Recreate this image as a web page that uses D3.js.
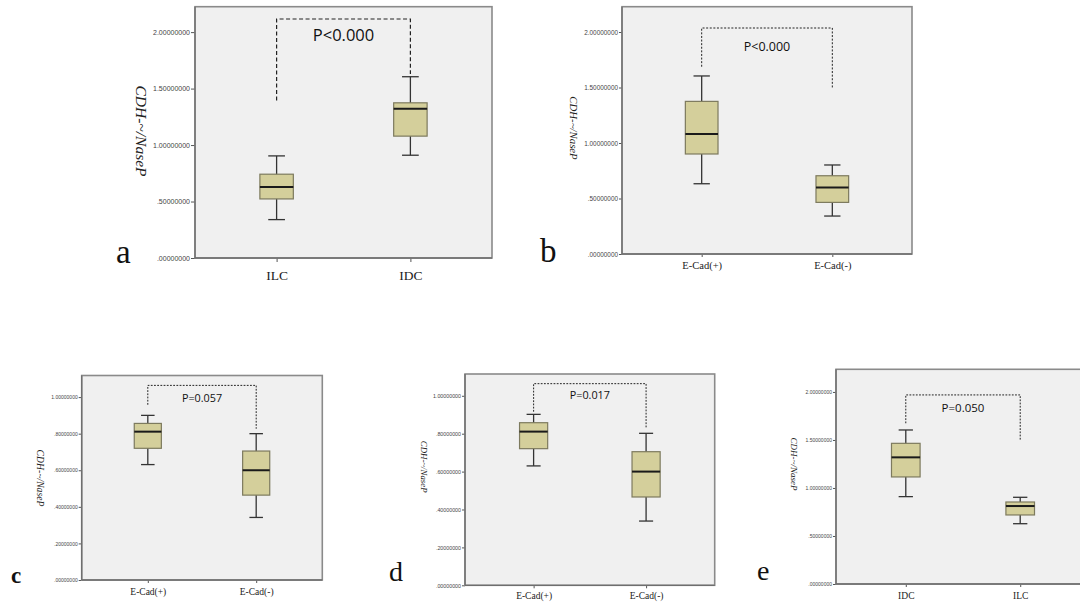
<!DOCTYPE html>
<html>
<head>
<meta charset="utf-8">
<script src="https://cdn.jsdelivr.net/npm/d3@7"></script>
<style>
  body { margin: 0; background: #fff; }
  svg { display: block; }
</style>
</head>
<body>
<svg id="fig" width="1080" height="603"></svg>
<script>
// Categories of each panel
const catsA = ["ILC", "IDC"];
const catsB = ["E-Cad(+)", "E-Cad(-)"];
const catsC = ["E-Cad(+)", "E-Cad(-)"];
const catsD = ["E-Cad(+)", "E-Cad(-)"];
const catsE = ["IDC", "ILC"];

// Box stats per category: [min, q1, median, q3, max]
const statsA = [[0.34, 0.523, 0.629, 0.742, 0.904], [0.91, 1.079, 1.321, 1.374, 1.605]];
const statsB = [[0.633, 0.901, 1.081, 1.375, 1.604], [0.342, 0.465, 0.600, 0.705, 0.802]];
const statsC = [[0.631, 0.720, 0.811, 0.856, 0.900], [0.342, 0.464, 0.600, 0.705, 0.800]];
const statsD = [[0.630, 0.721, 0.811, 0.858, 0.902], [0.339, 0.466, 0.600, 0.705, 0.802]];
const statsE = [[0.910, 1.115, 1.319, 1.465, 1.604], [0.628, 0.719, 0.812, 0.854, 0.903]];

// Significance brackets: [top, left leg end, right leg end]
const bracketA = [2.116, 1.394, 1.630];
const bracketB = [2.036, 1.687, 1.500];
const bracketC = [1.064, 0.958, 0.827];
const bracketD = [1.064, 0.916, 0.828];
const bracketE = [1.969, 1.674, 1.500];

const pLabels = ["P<0.000", "P<0.000", "P=0.057", "P=0.017", "P=0.050"];
const panelLetters = ["a", "b", "c", "d", "e"];

// Y ticks
const ticksLarge = [0, 0.5, 1.0, 1.5, 2.0];
const tickLabelsLarge = [".00000000", ".50000000", "1.00000000", "1.50000000", "2.00000000"];
const ticksSmall = [0, 0.2, 0.4, 0.6, 0.8, 1.0];
const tickLabelsSmall = [".00000000", ".20000000", ".40000000", ".60000000", ".80000000", "1.00000000"];

const yTitle = "CDH-~/NaseP";

// Layout of the five panels (pixels)
const layout = [
  { x0: 195, x1: 492, y0: 6.7, y1: 258, yTop: 2.225, tick: 4, tickFont: 7, xFont: 13.5, xPad: 8,
    pFont: 16.5, pDy: 22.4, dash: "4,2.5", dashW: 1.2, yLabX: 135.5, yLabY: 131, yLabFont: 15.5,
    letX: 116, letY: 263, letFont: 33, letWeight: "normal" },
  { x0: 622, x1: 912, y0: 6.7, y1: 254, yTop: 2.228, tick: 3, tickFont: 6.4, xFont: 10.5, xPad: 5,
    pFont: 12.5, pDy: 22.7, dash: "2,1.6", dashW: 1, yLabX: 569.5, yLabY: 128, yLabFont: 10.8,
    letX: 540, letY: 261.5, letFont: 33, letWeight: "normal" },
  { x0: 81.7, x1: 322.3, y0: 375.5, y1: 580, yTop: 1.118, tick: 3, tickFont: 5, xFont: 9.5, xPad: 5,
    pFont: 10.8, pDy: 16.7, dash: "1.8,1.4", dashW: 1, yLabX: 37, yLabY: 478, yLabFont: 9.7,
    letX: 11, letY: 582.5, letFont: 23, letWeight: "bold" },
  { x0: 465, x1: 714.7, y0: 374, y1: 585.3, yTop: 1.115, tick: 3, tickFont: 5.3, xFont: 9.5, xPad: 4,
    pFont: 10.8, pDy: 15.6, dash: "1.8,1.4", dashW: 1, yLabX: 420.5, yLabY: 466.7, yLabFont: 8.8,
    letX: 389, letY: 581.3, letFont: 28, letWeight: "normal" },
  { x0: 836, x1: 1090, y0: 369.3, y1: 584, yTop: 2.236, tick: 3, tickFont: 5, xFont: 9.5, xPad: 5,
    pFont: 11.5, pDy: 16.7, dash: "1.8,1.4", dashW: 1, yLabX: 790.5, yLabY: 464, yLabFont: 9,
    letX: 757, letY: 580, letFont: 28, letWeight: "normal" }
];

const panels = [
  { cats: catsA, stats: statsA, bracket: bracketA, ticks: ticksLarge, labels: tickLabelsLarge },
  { cats: catsB, stats: statsB, bracket: bracketB, ticks: ticksLarge, labels: tickLabelsLarge },
  { cats: catsC, stats: statsC, bracket: bracketC, ticks: ticksSmall, labels: tickLabelsSmall },
  { cats: catsD, stats: statsD, bracket: bracketD, ticks: ticksSmall, labels: tickLabelsSmall },
  { cats: catsE, stats: statsE, bracket: bracketE, ticks: ticksLarge, labels: tickLabelsLarge }
];

const svg = d3.select("#fig");
const serif = "'Liberation Serif', 'Times New Roman', serif";
const sans = "'Liberation Sans', Arial, sans-serif";

panels.forEach((p, i) => drawPanel(layout[i], p, pLabels[i], panelLetters[i]));

function drawPanel(L, p, pText, letter) {
  const g = svg.append("g");

  const y = d3.scaleLinear().domain([0, L.yTop]).range([L.y1, L.y0]);
  const x = d3.scalePoint().domain(p.cats).range([L.x0, L.x1]).padding(0.61);
  const boxW = x.step() * 0.25;

  // plot background
  g.append("rect")
    .attr("x", L.x0).attr("y", L.y0)
    .attr("width", L.x1 - L.x0).attr("height", L.y1 - L.y0)
    .attr("fill", "#f0f0f0");

  // y axis
  const yAxis = g.append("g")
    .attr("transform", `translate(${L.x0},0)`)
    .call(d3.axisLeft(y).tickValues(p.ticks)
      .tickFormat((d, k) => p.labels[k])
      .tickSize(L.tick).tickPadding(1));
  yAxis.select(".domain").remove();
  yAxis.selectAll("line").attr("stroke", "#555");
  yAxis.selectAll("text")
    .attr("font-family", sans).attr("font-size", L.tickFont).attr("fill", "#444");

  // x axis
  const xAxis = g.append("g")
    .attr("transform", `translate(0,${L.y1})`)
    .call(d3.axisBottom(x).tickSize(L.tick).tickPadding(L.xPad));
  xAxis.select(".domain").remove();
  xAxis.selectAll("line").attr("stroke", "#555");
  xAxis.selectAll("text")
    .attr("font-family", serif).attr("font-size", L.xFont).attr("fill", "#222");

  // frame
  g.append("rect")
    .attr("x", L.x0).attr("y", L.y0)
    .attr("width", L.x1 - L.x0).attr("height", L.y1 - L.y0)
    .attr("fill", "none").attr("stroke", "#8a8a8a").attr("stroke-width", 1.6);
  g.append("line")
    .attr("x1", L.x0).attr("x2", L.x0).attr("y1", L.y0).attr("y2", L.y1)
    .attr("stroke", "#6e6e6e").attr("stroke-width", 1.3);
  g.append("line")
    .attr("x1", L.x0).attr("x2", L.x1).attr("y1", L.y1).attr("y2", L.y1)
    .attr("stroke", "#6e6e6e").attr("stroke-width", 1.3);

  // boxes
  const box = g.selectAll(".box")
    .data(p.stats.map((s, k) => ({ cat: p.cats[k], s: s })))
    .enter().append("g").attr("class", "box");

  box.append("line")
    .attr("x1", d => x(d.cat)).attr("x2", d => x(d.cat))
    .attr("y1", d => y(d.s[0])).attr("y2", d => y(d.s[4]))
    .attr("stroke", "#333").attr("stroke-width", 1.3);
  box.selectAll(".cap")
    .data(d => [[d.cat, d.s[0]], [d.cat, d.s[4]]])
    .enter().append("line")
    .attr("x1", d => x(d[0]) - boxW / 4).attr("x2", d => x(d[0]) + boxW / 4)
    .attr("y1", d => y(d[1])).attr("y2", d => y(d[1]))
    .attr("stroke", "#333").attr("stroke-width", 1.3);
  box.append("rect")
    .attr("x", d => x(d.cat) - boxW / 2).attr("width", boxW)
    .attr("y", d => y(d.s[3])).attr("height", d => y(d.s[1]) - y(d.s[3]))
    .attr("fill", "#d4cf9b").attr("stroke", "#7d7a5e").attr("stroke-width", 1.2);
  box.append("line")
    .attr("x1", d => x(d.cat) - boxW / 2).attr("x2", d => x(d.cat) + boxW / 2)
    .attr("y1", d => y(d.s[2])).attr("y2", d => y(d.s[2]))
    .attr("stroke", "#1a1a1a").attr("stroke-width", 2);

  // significance bracket
  const b = p.bracket;
  const xl = x(p.cats[0]), xr = x(p.cats[1]);
  g.append("path")
    .attr("d", `M${xl},${y(b[1])}V${y(b[0])}H${xr}V${y(b[2])}`)
    .attr("fill", "none").attr("stroke", "#222")
    .attr("stroke-width", L.dashW).attr("stroke-dasharray", L.dash);
  g.append("text")
    .attr("x", (xl + xr) / 2).attr("y", y(b[0]) + L.pDy)
    .attr("text-anchor", "middle")
    .attr("font-family", "'Open Sans', 'Noto Sans', sans-serif")
    .attr("font-size", L.pFont).attr("fill", "#111")
    .text(pText);

  // y title, reads top to bottom
  g.append("text")
    .attr("transform", `translate(${L.yLabX},${L.yLabY}) rotate(90)`)
    .attr("text-anchor", "middle")
    .attr("font-family", serif).attr("font-style", "italic")
    .attr("font-size", L.yLabFont).attr("fill", "#222")
    .text(yTitle);

  // panel letter
  g.append("text")
    .attr("x", L.letX).attr("y", L.letY)
    .attr("font-family", serif).attr("font-size", L.letFont)
    .attr("font-weight", L.letWeight).attr("fill", "#111")
    .text(letter);
}
</script>
</body>
</html>
